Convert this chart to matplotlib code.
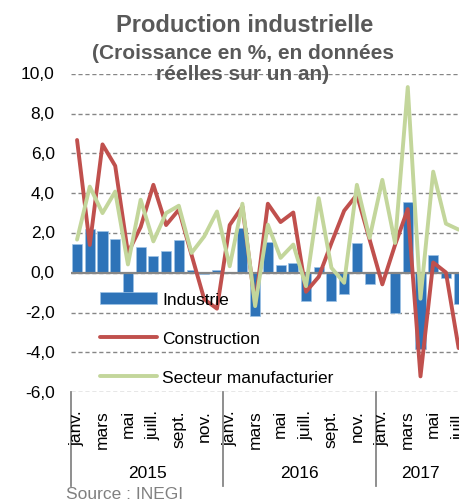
import numpy as np
import matplotlib
matplotlib.use("Agg")
import matplotlib.pyplot as plt

plt.rcParams['font.family'] = ['Liberation Sans', 'DejaVu Sans']

# monthly growth rates, janv. 2015 -> juill. 2017
mois = ['janv.', 'févr.', 'mars', 'avr.', 'mai', 'juin',
        'juill.', 'août', 'sept.', 'oct.', 'nov.', 'déc.']
annees = ['2015', '2016', '2017']
n_mois = [12, 12, 7]

industrie = [1.45, 2.2, 2.1, 1.7, -1.03, 1.3, 0.87, 1.1, 1.65, 0.13, -0.05, 0.15,
             0.02, 2.23, -2.17, 1.53, 0.37, 0.51, -1.43, 0.3, -1.43, -1.08, 1.5, -0.58,
             0.02, -2.0, 3.58, -3.83, 0.92, -0.28, -1.58]
construction = [6.67, 1.4, 6.45, 5.37, 1.0, 2.3, 4.42, 2.4, 3.17, 0.9, -1.33, -1.8,
                2.4, 3.33, -1.6, 3.47, 2.55, 3.03, -0.95, -0.2, 1.5, 3.12, 3.92, 1.67,
                -0.58, 1.4, 3.2, -5.2, 0.52, 0.02, -3.78]
manufacturier = [1.67, 4.33, 3.0, 4.08, 0.42, 3.67, 1.58, 3.0, 3.37, 1.0, 1.83, 3.08,
                 0.33, 3.47, -1.67, 2.42, 0.75, 1.42, -0.67, 3.75, 0.25, -0.5, 4.42, 1.75,
                 4.67, 1.5, 9.33, -1.3, 5.08, 2.47, 2.17]
yticks = [-6, -4, -2, 0, 2, 4, 6, 8, 10]

W, H = 459, 502
fig = plt.figure(figsize=(W / 100, H / 100), dpi=100)
# axes runs a bit past the right edge, like the cropped original
x0, x1, y_top, y_bot = 70.7, 465.0, 74.7, 393.3
ax = fig.add_axes([x0 / W, 1 - y_bot / H, (x1 - x0) / W, (y_bot - y_top) / H])

x = np.arange(len(industrie))
gris = '#595959'

b = ax.bar(x, industrie, width=0.79, color='#2E73B8', edgecolor='#9DC3E6',
           linewidth=0.5, zorder=2, label='Industrie')
ax.axhline(0, color='#868686', lw=1.6, zorder=3)
l1, = ax.plot(x, construction, color='#C0504D', lw=2.8, solid_joinstyle='round',
              solid_capstyle='round', zorder=4, label='Construction')
l2, = ax.plot(x, manufacturier, color='#C3D69B', lw=2.8, solid_joinstyle='round',
              solid_capstyle='round', zorder=5, label='Secteur manufacturier')

ax.set_xlim(-0.5, len(x) - 0.5)
ax.set_ylim(-6, 10)
ax.set_yticks(yticks)
ax.set_yticklabels([])
ax.set_xticks([])
ax.yaxis.grid(True, color='#868686', lw=1.0, ls=(0, (3, 2)))
ax.set_axisbelow(True)
ax.tick_params(axis='y', length=0)
for s in ax.spines.values():
    s.set_visible(False)

h_ax = y_bot - y_top
w_ax = x1 - x0
# y labels, 16 px left of the plot area
ytr = ax.get_yaxis_transform()
for v in yticks:
    ax.text(-16 / w_ax, v, f"{v:.1f}".replace('.', ','), ha='right', va='center',
            fontsize=12.5, transform=ytr)

# two-level category axis
tr = ax.get_xaxis_transform()
k = 0
for an, n in zip(annees, n_mois):
    for m in range(n):
        if m % 2 == 0:
            ax.text(k + m, -(410 - y_bot) / h_ax, mois[m], rotation=90,
                    ha='center', va='top', fontsize=12.5, transform=tr)
    ax.text(k + (n - 1) / 2, -(474 - y_bot) / h_ax, an, ha='center',
            va='center', fontsize=12.5, transform=tr)
    k += n
bornes = np.cumsum([0] + n_mois) - 0.5
for bx in bornes:
    ax.plot([bx, bx], [0, -(487 - y_bot) / h_ax], color='#868686', lw=1.3,
            transform=tr, clip_on=False)

ax.legend([b, l1, l2], ['Industrie', 'Construction', 'Secteur manufacturier'],
          loc='center left', bbox_to_anchor=((100 - x0) / w_ax, (y_bot - 339.5) / h_ax),
          frameon=False, fontsize=12.5, handlelength=3.3, handletextpad=0.3,
          labelspacing=1.37, borderpad=0, borderaxespad=0)

fig.text(245 / W, 1 - 31.7 / H, 'Production industrielle', ha='center',
         va='baseline', fontsize=17, fontweight='bold', color=gris)
fig.text(243 / W, 1 - 59 / H, '(Croissance en %, en données', ha='center',
         va='baseline', fontsize=15, fontweight='bold', color=gris)
fig.text(243 / W, 1 - 80 / H, 'réelles sur un an)', ha='center',
         va='baseline', fontsize=15, fontweight='bold', color=gris)
fig.text(66 / W, 1 - 499 / H, 'Source : INEGI', ha='left', va='baseline',
         fontsize=12.5, color='#808080')

fig.savefig('out.png', dpi=100)
